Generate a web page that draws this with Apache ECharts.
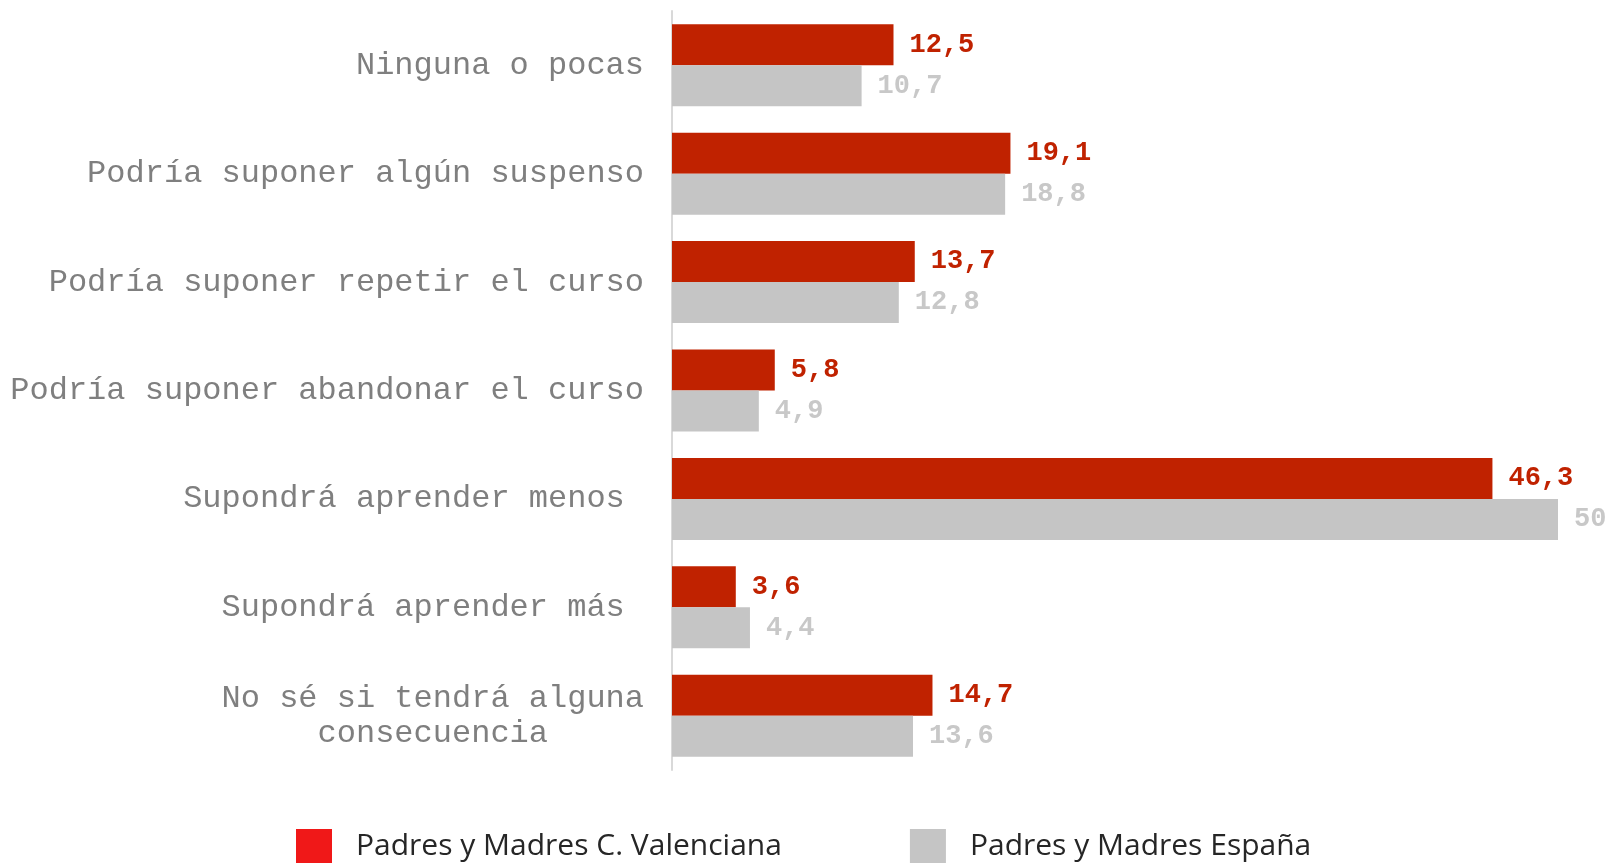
<!DOCTYPE html>
<html>
<head>
<meta charset="utf-8">
<script src="https://cdn.jsdelivr.net/npm/echarts@6/dist/echarts.min.js"></script>
<style>
  html, body { margin: 0; padding: 0; background: #fff; }
  #chart { width: 1607px; height: 864px; }
</style>
</head>
<body>
<div id="chart"></div>
<script>
// categorias (de arriba a abajo)
var categories = [
  'Ninguna o pocas',
  'Podría suponer algún suspenso',
  'Podría suponer repetir el curso',
  'Podría suponer abandonar el curso',
  'Supondrá aprender menos ',
  'Supondrá aprender más ',
  'No sé si tendrá alguna\nconsecuencia     '
];
var seriesNames = ['Padres y Madres C. Valenciana', 'Padres y Madres España'];
var valenciaValues = [12.5, 19.1, 13.7, 5.8, 46.3, 3.6, 14.7];
var espanaValues = [10.7, 18.8, 12.8, 4.9, 50, 4.4, 13.6];

var RED = '#c02200';
var GREY = '#c5c5c5';

function fmt(p) {
  return String(p.value).replace('.', ',');
}

var chart = echarts.init(document.getElementById('chart'));
chart.setOption({
  backgroundColor: '#fff',
  animation: false,
  grid: {
    left: 672,
    right: 49,
    top: 11,
    height: 759,
    containLabel: false,
    outerBoundsMode: 'none'
  },
  legend: {
    left: 291,
    top: 824,
    itemWidth: 36,
    itemHeight: 34,
    itemGap: 128,
    icon: 'rect',
    textStyle: {
      fontFamily: 'Open Sans',
      fontSize: 30,
      color: '#262626',
      padding: [4, 0, 0, 19]
    },
    data: [
      { name: seriesNames[0], itemStyle: { color: '#f01818' } },
      { name: seriesNames[1], itemStyle: { color: GREY } }
    ]
  },
  xAxis: {
    type: 'value',
    min: 0,
    max: 50,
    show: false,
    splitLine: { show: false }
  },
  yAxis: {
    type: 'category',
    inverse: true,
    data: categories,
    axisTick: { show: false },
    axisLine: {
      show: true,
      lineStyle: { color: '#d9d9d9', width: 2 }
    },
    axisLabel: {
      margin: 28,
      color: '#7f7f7f',
      fontFamily: 'Liberation Mono',
      fontSize: 32,
      lineHeight: 35
    }
  },
  series: [
    {
      name: seriesNames[0],
      type: 'bar',
      data: valenciaValues,
      barWidth: 41,
      barGap: '0%',
      itemStyle: { color: RED },
      label: {
        show: true,
        position: 'right',
        distance: 16,
        formatter: fmt,
        color: RED,
        fontFamily: 'Liberation Mono',
        fontWeight: 'bold',
        fontSize: 27
      }
    },
    {
      name: seriesNames[1],
      type: 'bar',
      data: espanaValues,
      barWidth: 41,
      barGap: '0%',
      itemStyle: { color: GREY },
      label: {
        show: true,
        position: 'right',
        distance: 16,
        formatter: fmt,
        color: '#c8c8c8',
        fontFamily: 'Liberation Mono',
        fontWeight: 'bold',
        fontSize: 27
      }
    }
  ]
});
</script>
</body>
</html>
